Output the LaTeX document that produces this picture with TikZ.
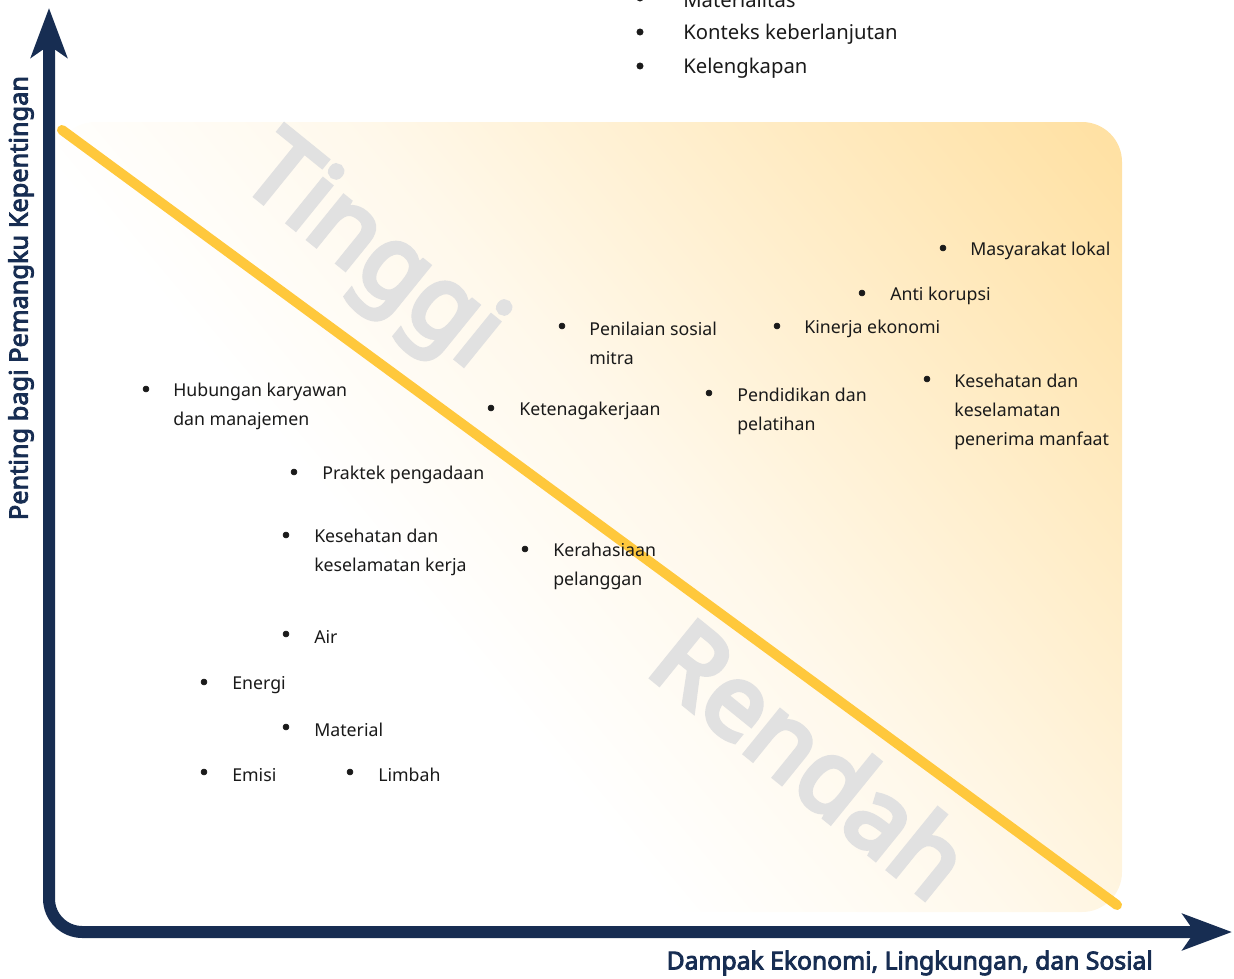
\documentclass[tikz,border=0pt]{standalone}
\usepackage{fontspec}
\setmainfont{Noto Sans}[BoldFont={Noto Sans}, BoldFeatures={FakeBold=3.5}]
\newfontfamily\tebalsamar{Noto Sans}[FakeBold=5]
\usepackage{tikz}
\usetikzlibrary{arrows.meta}
\definecolor{navy}{HTML}{172D52}
\definecolor{garis}{HTML}{FFC83C}
\definecolor{jingga}{HTML}{FFE1A4}
\definecolor{samar}{HTML}{E1E1E1}
\definecolor{teks}{HTML}{1A1A1A}
\pgfdeclarehorizontalshading{latar}{100bp}{color(0bp)=(white); color(40bp)=(white);
  color(54bp)=(jingga!22); color(68bp)=(jingga!58); color(84bp)=(jingga); color(100bp)=(jingga)}
\tikzset{
  lbl/.style={anchor=west, inner sep=0pt, align=left, text=teks, yshift=-2.25pt,
    font=\fontsize{13.3}{21.75}\selectfont},
  lblatas/.style={anchor=west, inner sep=0pt, text=teks, yshift=-1.5pt,
    font=\fontsize{15.2}{20}\selectfont},
  sumbu/.style={navy, line width=9pt, rounded corners=25,
    {Stealth[length=37pt, width=27pt, inset=9pt]}-{Stealth[length=37pt, width=27pt, inset=9pt]}},
  tanda/.style={text=samar, inner sep=0pt, font=\fontsize{77}{80}\tebalsamar},
  judul/.style={text=navy, inner sep=0pt, font=\fontsize{18.5}{22}\selectfont\bfseries}
}

\begin{document}
\begin{tikzpicture}[x=0.75pt, y=-0.75pt]
\useasboundingbox (0,0) rectangle (1234,978);
% latar gradasi
\shade[rounded corners=30, shading=latar, shading angle=40]
  (55,122) rectangle (1122,912);

% tulisan samar
\node[tanda, rotate=-39] (tinggi) at (370,256) {Tinggi};
\node[tanda, rotate=-39] (rendah) at (812,758) {Rendah};

% garis pemisah
\draw[garis, line width=7.5pt, line cap=round] (62,130) -- (1117,905);

% sumbu
\draw[sumbu] (49,8) |- (1232,932);
\node[judul, rotate=90, font=\fontsize{19}{22}\selectfont\bfseries] (ylab) at (21,298) {Penting bagi Pemangku Kepentingan};
\node[judul, anchor=east] (xlab) at (1153,963) {Dampak Ekonomi, Lingkungan, dan Sosial};

% daftar atas
\foreach \y in {-2,32,66}
{
\filldraw [teks] (640,\y) circle (3.2);
}
\node[lblatas] (mat) at (683,-2) {Materialitas};
\node[lblatas] (kon) at (683,32) {Konteks keberlanjutan};
\node[lblatas] (kel) at (683,66) {Kelengkapan};

% titik
\filldraw [teks] (943,248) circle (3);
\filldraw [teks] (862,293) circle (3);
\filldraw [teks] (562,326) circle (3);
\filldraw [teks] (777,326) circle (3);
\filldraw [teks] (146,389) circle (3);
\filldraw [teks] (491,408) circle (3);
\filldraw [teks] (709,393) circle (3);
\filldraw [teks] (927,379) circle (3);
\filldraw [teks] (294,472) circle (3);
\filldraw [teks] (286,535) circle (3);
\filldraw [teks] (525,549) circle (3);
\filldraw [teks] (286,634) circle (3);
\filldraw [teks] (204,682) circle (3);
\filldraw [teks] (286,727) circle (3);
\filldraw [teks] (204,772) circle (3);
\filldraw [teks] (350,772) circle (3);

% label
\node[lbl] (masy) at (970,248) {Masyarakat lokal};
\node[lbl] (anti) at (890,293) {Anti korupsi};
\node[lbl] (nilai) at (589,340.5) {Penilaian sosial\\mitra};
\node[lbl] (kin) at (804,326) {Kinerja ekonomi};
\node[lbl] (hub) at (173,403.5) {Hubungan karyawan\\dan manajemen};
\node[lbl] (kete) at (519,408) {Ketenagakerjaan};
\node[lbl] (didik) at (737,408) {Pendidikan dan\\pelatihan};
\node[lbl] (kes) at (954,408.5) {Kesehatan dan\\keselamatan\\penerima manfaat};
\node[lbl] (prak) at (322,472) {Praktek pengadaan};
\node[lbl] (k3) at (314,549.5) {Kesehatan dan\\keselamatan kerja};
\node[lbl] (rahasia) at (553,563.5) {Kerahasiaan\\pelanggan};
\node[lbl] (air) at (314,634) {Air};
\node[lbl] (ener) at (232,682) {Energi};
\node[lbl] (mater) at (314,727) {Material};
\node[lbl] (emisi) at (232,772) {Emisi};
\node[lbl] (limbah) at (378,772) {Limbah};
\end{tikzpicture}
\end{document}
